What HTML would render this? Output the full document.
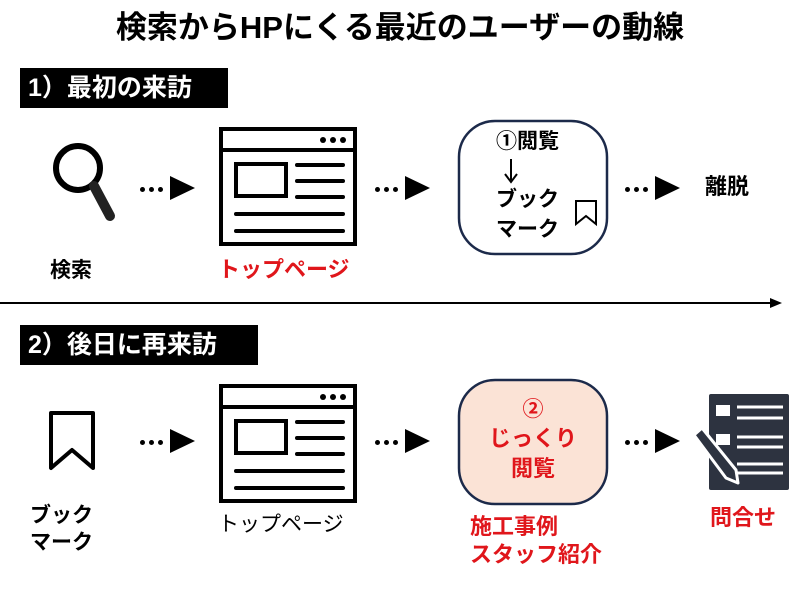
<!DOCTYPE html>
<html><head><meta charset="utf-8"><style>
body{margin:0;width:800px;height:590px;background:#fff;position:relative;overflow:hidden;font-family:"Liberation Sans","Noto Sans CJK JP",sans-serif;font-weight:bold}
.t{position:absolute;white-space:nowrap;line-height:1}
.lab{position:absolute;background:#000;color:#fff;font-size:25px;padding:0 8px;height:40px;line-height:40px}
.arr{position:absolute;width:60px;height:26px}
.arr i{position:absolute;top:11px;width:5px;height:5px;border-radius:50%;background:#000}
.arr b{position:absolute;left:30px;top:0;width:0;height:0;border-left:25px solid #000;border-top:12px solid transparent;border-bottom:12px solid transparent}
.red{color:#e0161b}
</style></head><body>
<div class="t" style="left:0;width:800px;text-align:center;top:12px;font-size:31px">検索からHPにくる最近のユーザーの動線</div>
<div class="lab" style="left:20px;top:68px;width:192px">1）最初の来訪</div>
<div class="lab" style="left:20px;top:325px;width:222px">2）後日に再来訪</div>

<svg style="position:absolute;left:0;top:0" width="800" height="590">
 <circle cx="78" cy="168" r="22" fill="none" stroke="#000" stroke-width="6"/>
 <line x1="94" y1="186" x2="110" y2="216" stroke="#222" stroke-width="10" stroke-linecap="round"/>
 <g id="br">
  <rect x="221" y="129" width="134" height="115" fill="#fff" stroke="#000" stroke-width="4"/>
  <line x1="221" y1="150" x2="355" y2="150" stroke="#000" stroke-width="4"/>
  <circle cx="323" cy="140" r="3" /><circle cx="333" cy="140" r="3"/><circle cx="343" cy="140" r="3"/>
  <rect x="236" y="164" width="50" height="32" fill="none" stroke="#000" stroke-width="4"/>
  <g stroke="#000" stroke-width="4" stroke-linecap="round">
   <line x1="297" y1="165" x2="343" y2="165"/><line x1="297" y1="181" x2="343" y2="181"/><line x1="297" y1="197" x2="343" y2="197"/>
   <line x1="236" y1="214" x2="343" y2="214"/><line x1="236" y1="231" x2="343" y2="231"/>
  </g>
 </g>
 <use href="#br" y="257"/>
 <rect x="459" y="121" width="148" height="133" rx="36" fill="#fff" stroke="#1c2a4a" stroke-width="2.5"/>
 <path d="M576 201h20v23l-10-8-10 8z" fill="none" stroke="#000" stroke-width="2"/>
 <line x1="511" y1="159" x2="511" y2="180" stroke="#000" stroke-width="2"/>
 <path d="M505 174l6 8 6-8" fill="none" stroke="#000" stroke-width="2"/>
 <rect x="459" y="380" width="148" height="124" rx="36" fill="#fbe3d6" stroke="#1c2a4a" stroke-width="2.5"/>
 <line x1="0" y1="303" x2="775" y2="303" stroke="#000" stroke-width="2"/>
 <path d="M770 298l12 5-12 5z" fill="#000"/>
 <path d="M51 413h42v55l-21-18-21 18z" fill="none" stroke="#000" stroke-width="4" stroke-linejoin="round"/>
 <rect x="709" y="394" width="80" height="96" rx="2" fill="#2d3340"/>
 <g fill="#fff"><rect x="716" y="405" width="14" height="11"/><rect x="716" y="434" width="14" height="11"/></g>
 <g stroke="#fff" stroke-width="3"><line x1="737" y1="407" x2="783" y2="407"/><line x1="737" y1="418" x2="783" y2="418"/><line x1="737" y1="437" x2="783" y2="437"/><line x1="737" y1="447" x2="783" y2="447"/><line x1="737" y1="464" x2="783" y2="464"/><line x1="737" y1="473" x2="783" y2="473"/></g>
 <path d="M694 435l8-7 34 42 2 13-12-5z" fill="#2d3340" stroke="#fff" stroke-width="3" stroke-linejoin="round"/>
</svg>

<div class="arr" style="left:140px;top:176px"><i style="left:0"></i><i style="left:9px"></i><i style="left:18px"></i><b></b></div>
<div class="arr" style="left:375px;top:176px"><i style="left:0"></i><i style="left:9px"></i><i style="left:18px"></i><b></b></div>
<div class="arr" style="left:625px;top:176px"><i style="left:0"></i><i style="left:9px"></i><i style="left:18px"></i><b></b></div>
<div class="arr" style="left:140px;top:429px"><i style="left:0"></i><i style="left:9px"></i><i style="left:18px"></i><b></b></div>
<div class="arr" style="left:375px;top:429px"><i style="left:0"></i><i style="left:9px"></i><i style="left:18px"></i><b></b></div>
<div class="arr" style="left:625px;top:429px"><i style="left:0"></i><i style="left:9px"></i><i style="left:18px"></i><b></b></div>

<div class="t" style="left:50px;top:260px;font-size:21px">検索</div>
<div class="t red" style="left:218px;top:259px;font-size:22px">トップページ</div>
<div class="t" style="left:496px;top:131px;font-size:21px">①閲覧</div>
<div class="t" style="left:496px;top:189px;font-size:21px">ブック</div>
<div class="t" style="left:496px;top:219px;font-size:21px">マーク</div>
<div class="t" style="left:705px;top:176px;font-size:22px">離脱</div>
<div class="t" style="left:30px;top:505px;font-size:21px">ブック<br><span style="line-height:34px">マーク</span></div>
<div class="t" style="left:218px;top:514px;font-size:21px;font-weight:normal">トップページ</div>
<div class="t red" style="left:459px;width:148px;text-align:center;top:399px;font-size:21px">②</div>
<div class="t red" style="left:459px;width:148px;text-align:center;top:428px;font-size:22px">じっくり</div>
<div class="t red" style="left:459px;width:148px;text-align:center;top:458px;font-size:22px">閲覧</div>
<div class="t red" style="left:470px;top:516px;font-size:22px">施工事例</div>
<div class="t red" style="left:470px;top:544px;font-size:22px">スタッフ紹介</div>
<div class="t red" style="left:710px;top:507px;font-size:22px">問合せ</div>
</body></html>
